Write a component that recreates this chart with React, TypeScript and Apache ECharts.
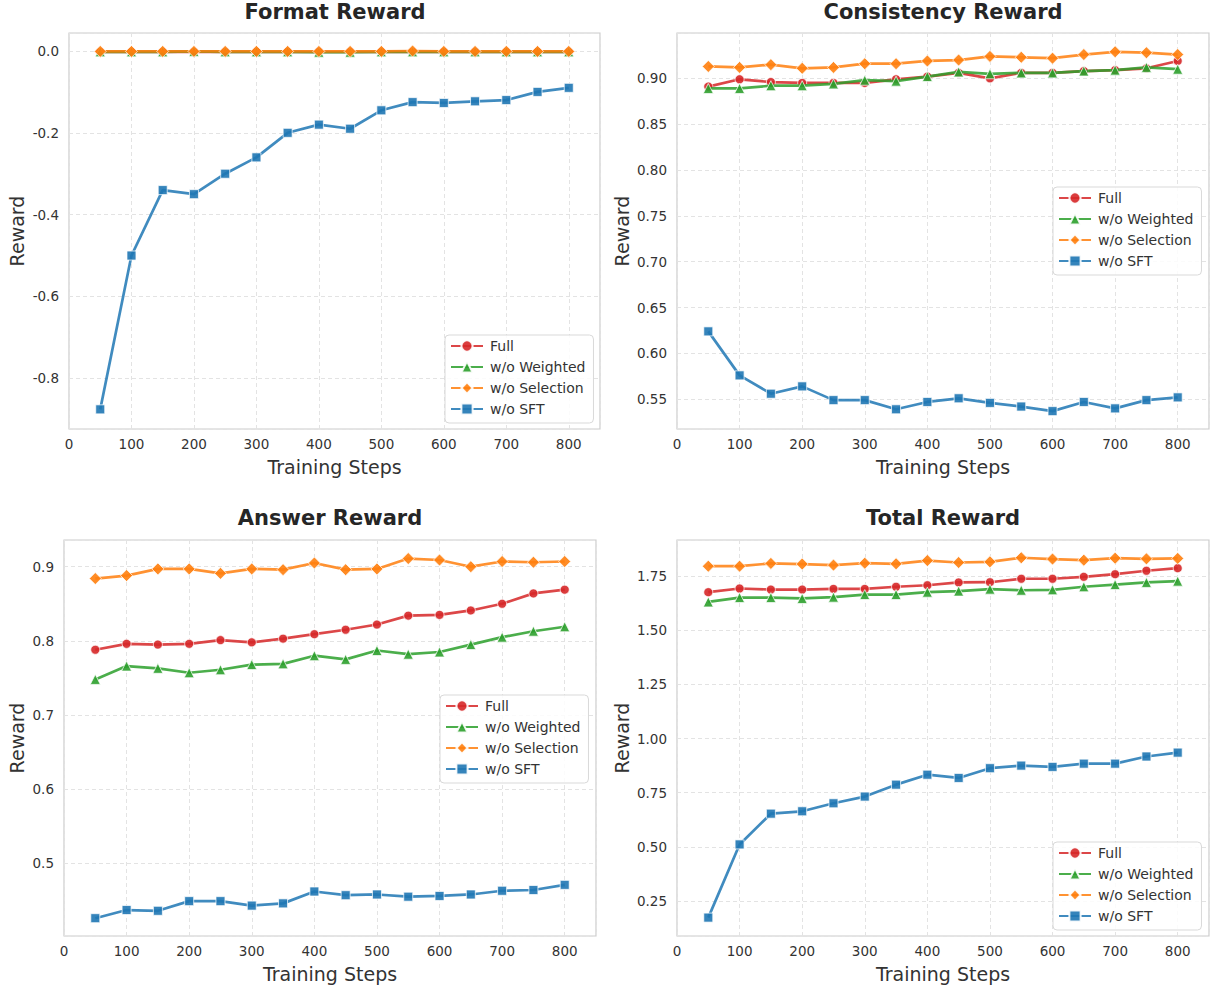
import React, { useEffect, useRef } from "react";
import * as echarts from "echarts";

const steps = [50, 100, 150, 200, 250, 300, 350, 400, 450, 500, 550, 600, 650, 700, 750, 800];
const seriesNames = ["Full", "w/o Weighted", "w/o Selection", "w/o SFT"];
const panelTitles = ["Format Reward", "Consistency Reward", "Answer Reward", "Total Reward"];

// Format Reward
const formatFull = [-0.002, -0.002, -0.002, -0.002, -0.002, -0.002, -0.002, -0.002, -0.002, -0.002, -0.002, -0.002, -0.002, -0.002, -0.002, -0.002];
const formatWeighted = [-0.002, -0.002, -0.002, -0.001, -0.002, -0.002, -0.002, -0.003, -0.003, -0.002, -0.002, -0.002, -0.002, -0.002, -0.002, -0.002];
const formatSelection = [-0.001, -0.001, -0.001, -0.001, -0.001, -0.001, -0.001, -0.001, -0.001, -0.001, 0.0, -0.001, -0.001, -0.001, -0.001, -0.001];
const formatSFT = [-0.876, -0.5, -0.34, -0.35, -0.3, -0.26, -0.2, -0.18, -0.19, -0.145, -0.125, -0.127, -0.123, -0.12, -0.1, -0.09];

// Consistency Reward
const consFull = [0.891, 0.899, 0.896, 0.895, 0.895, 0.895, 0.899, 0.902, 0.906, 0.9, 0.906, 0.906, 0.908, 0.909, 0.911, 0.919];
const consWeighted = [0.889, 0.889, 0.892, 0.892, 0.894, 0.898, 0.897, 0.902, 0.907, 0.905, 0.906, 0.906, 0.908, 0.909, 0.912, 0.91];
const consSelection = [0.913, 0.912, 0.915, 0.911, 0.912, 0.916, 0.916, 0.919, 0.92, 0.924, 0.923, 0.922, 0.926, 0.929, 0.928, 0.926];
const consSFT = [0.624, 0.576, 0.556, 0.564, 0.549, 0.549, 0.539, 0.547, 0.551, 0.546, 0.542, 0.537, 0.547, 0.54, 0.549, 0.552];

// Answer Reward
const ansFull = [0.788, 0.796, 0.795, 0.796, 0.801, 0.798, 0.803, 0.809, 0.815, 0.822, 0.834, 0.835, 0.841, 0.85, 0.864, 0.869];
const ansWeighted = [0.748, 0.766, 0.763, 0.757, 0.761, 0.768, 0.769, 0.78, 0.775, 0.787, 0.782, 0.785, 0.795, 0.805, 0.813, 0.819];
const ansSelection = [0.884, 0.888, 0.897, 0.897, 0.891, 0.897, 0.896, 0.905, 0.896, 0.897, 0.911, 0.909, 0.9, 0.907, 0.906, 0.907];
const ansSFT = [0.426, 0.437, 0.436, 0.449, 0.449, 0.443, 0.446, 0.462, 0.457, 0.458, 0.455, 0.456, 0.458, 0.463, 0.464, 0.471];

// Total Reward
const totalFull = [1.676, 1.693, 1.688, 1.688, 1.691, 1.691, 1.701, 1.708, 1.721, 1.722, 1.738, 1.738, 1.747, 1.759, 1.775, 1.787];
const totalWeighted = [1.631, 1.651, 1.651, 1.647, 1.653, 1.665, 1.665, 1.676, 1.681, 1.69, 1.685, 1.687, 1.701, 1.711, 1.721, 1.727];
const totalSelection = [1.796, 1.796, 1.809, 1.806, 1.801, 1.81, 1.807, 1.822, 1.813, 1.816, 1.835, 1.829, 1.824, 1.833, 1.83, 1.832];
const totalSFT = [0.173, 0.511, 0.653, 0.664, 0.701, 0.732, 0.787, 0.833, 0.818, 0.863, 0.875, 0.869, 0.884, 0.884, 0.917, 0.935];

const panelData = [
  [formatFull, formatWeighted, formatSelection, formatSFT],
  [consFull, consWeighted, consSelection, consSFT],
  [ansFull, ansWeighted, ansSelection, ansSFT],
  [totalFull, totalWeighted, totalSelection, totalSFT],
];

const yMins = [-0.924, 0.5175, 0.402, 0.088];
const yMaxs = [0.044, 0.9495, 0.936, 1.917];
const yIntervals = [0.2, 0.05, 0.1, 0.25];
const yDecimals = [1, 2, 1, 2];

const colors = ["#d62728", "#2ca02c", "#ff7f0e", "#1f77b4"];
const symbols = ["circle", "triangle", "diamond", "rect"];
const symbolSizes = [9, 10, 12, 9];

const grids = [
  { left: 69, top: 33, width: 531, height: 396 },
  { left: 677, top: 33, width: 532, height: 396 },
  { left: 64, top: 540, width: 532, height: 396 },
  { left: 677, top: 540, width: 532, height: 396 },
];
const yNameGaps = [43, 46, 38, 46];
const legendPos = [
  { left: 445, top: 335 },
  { left: 1053, top: 187 },
  { left: 440, top: 695 },
  { left: 1053, top: 842 },
];
const titlePos = [
  [335, 12],
  [943, 12],
  [330, 518],
  [943, 518],
];

const FONT = "DejaVu Sans";

export default function App() {
  const ref = useRef<HTMLDivElement>(null);
  useEffect(() => {
    document.body.style.margin = "0";
    if (!ref.current) return;
    const chart = echarts.init(ref.current, null, { renderer: "svg" });

    const xAxes = grids.map((_, i) => ({
      type: "value",
      gridIndex: i,
      min: 0,
      max: 850,
      interval: 100,
      name: "Training Steps",
      nameLocation: "middle",
      nameGap: 28,
      nameTextStyle: { fontFamily: FONT, fontSize: 19, color: "#333" },
      axisLine: { show: false },
      axisTick: { show: false },
      axisLabel: { fontFamily: FONT, fontSize: 13.5, color: "#333", margin: 8, showMaxLabel: false },
      splitLine: { show: true, lineStyle: { color: "#e3e3e3", type: [4, 3], width: 1 } },
    }));

    const yAxes = grids.map((_, i) => ({
      type: "value",
      gridIndex: i,
      min: yMins[i],
      max: yMaxs[i],
      minInterval: yIntervals[i],
      maxInterval: yIntervals[i],
      name: "Reward",
      nameLocation: "middle",
      nameGap: yNameGaps[i],
      nameTextStyle: { fontFamily: FONT, fontSize: 19, color: "#333" },
      axisLine: { show: false },
      axisTick: { show: false },
      axisLabel: {
        fontFamily: FONT,
        fontSize: 13.5,
        color: "#333",
        margin: 10,
        showMinLabel: false,
        showMaxLabel: false,
        formatter: (v: number) => v.toFixed(yDecimals[i]),
      },
      splitLine: { show: true, lineStyle: { color: "#e3e3e3", type: [4, 3], width: 1 } },
    }));

    const series: any[] = [];
    panelData.forEach((arrs, p) => {
      arrs.forEach((vals, s) => {
        series.push({
          type: "line",
          name: seriesNames[s],
          xAxisIndex: p,
          yAxisIndex: p,
          data: steps.map((x, k) => [x, vals[k]]),
          symbol: symbols[s],
          symbolSize: symbolSizes[s],
          showSymbol: true,
          lineStyle: { color: colors[s], width: 2.7, opacity: 0.85 },
          itemStyle: { color: colors[s], opacity: 0.9, borderColor: "#ffffff", borderWidth: 0.8 },
          z: 2 + s,
        });
      });
    });

    const legends = legendPos.map((pos) => ({
      ...pos,
      orient: "vertical",
      data: seriesNames,
      itemWidth: 32,
      itemHeight: 14,
      itemGap: 7,
      padding: [4, 8, 7, 5],
      backgroundColor: "rgba(255,255,255,0.85)",
      borderColor: "#d9d9d9",
      borderWidth: 1,
      borderRadius: 4,
      textStyle: { fontFamily: FONT, fontSize: 14, color: "#333", lineHeight: 14, padding: [0, 0, 0, 2] },
    }));

    const titles = panelTitles.map((t, i) => ({
      type: "text",
      x: titlePos[i][0],
      y: titlePos[i][1],
      style: {
        text: t,
        fontFamily: FONT,
        fontSize: 21,
        fontWeight: "bold",
        fill: "#262626",
        align: "center",
        verticalAlign: "middle",
      },
    }));

    chart.setOption({
      animation: false,
      backgroundColor: "#ffffff",
      grid: grids.map((g) => ({ ...g, show: true, borderColor: "#cccccc", borderWidth: 1.2, backgroundColor: "transparent", containLabel: false })),
      xAxis: xAxes,
      yAxis: yAxes,
      legend: legends,
      series,
      graphic: titles,
    });
    return () => chart.dispose();
  }, []);
  return <div ref={ref} style={{ width: 1210, height: 990 }} />;
}
